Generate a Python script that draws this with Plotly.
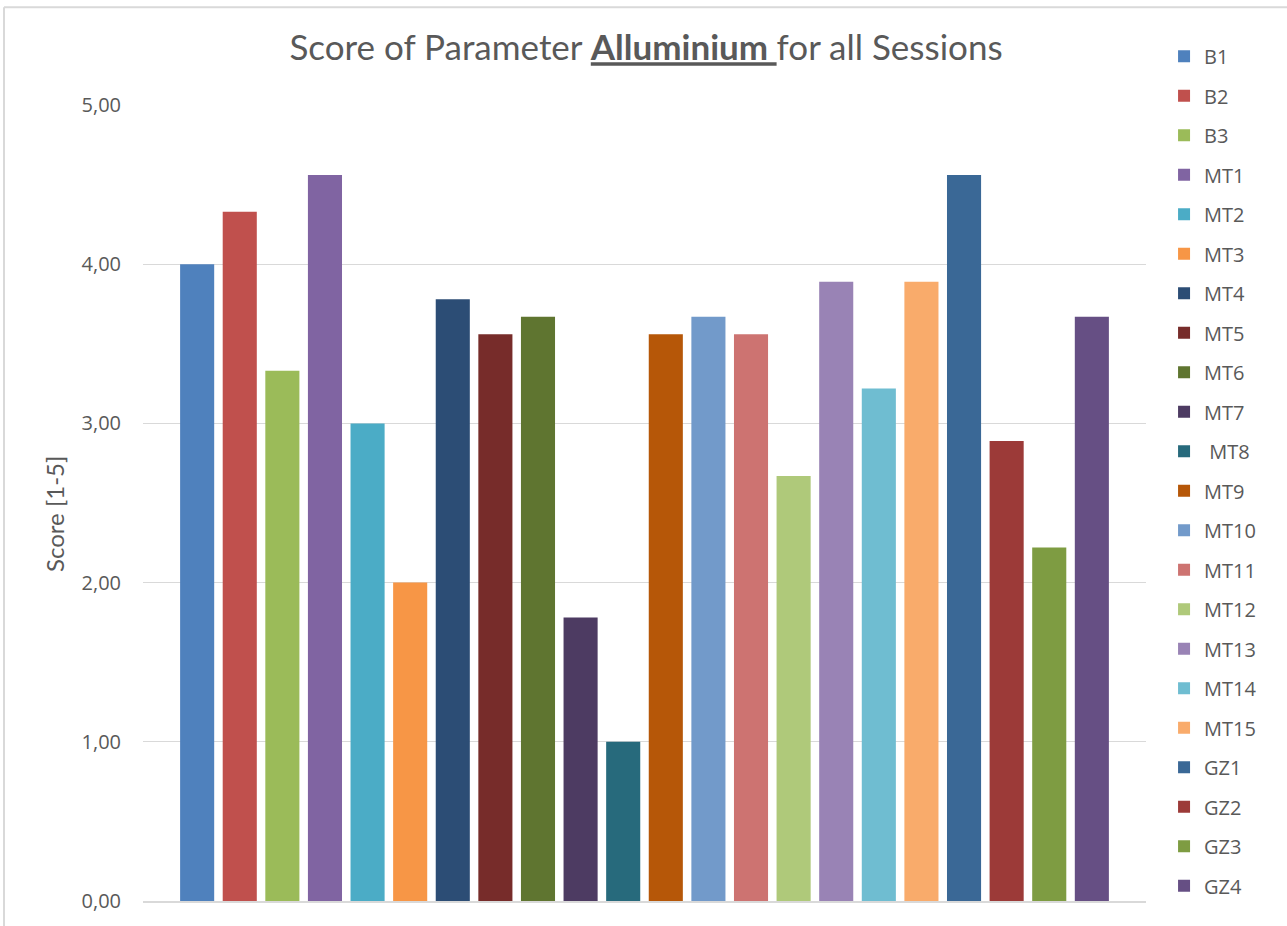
import plotly.graph_objects as go

sessions = ["B1", "B2", "B3", "MT1", "MT2", "MT3", "MT4", "MT5", "MT6", "MT7", " MT8",
            "MT9", "MT10", "MT11", "MT12", "MT13", "MT14", "MT15", "GZ1", "GZ2", "GZ3", "GZ4"]
scores = [4.00, 4.33, 3.33, 4.56, 3.00, 2.00, 3.78, 3.56, 3.67, 1.78, 1.00,
          3.56, 3.67, 3.56, 2.67, 3.89, 3.22, 3.89, 4.56, 2.89, 2.22, 3.67]
colors = ["#4F81BD", "#C0504D", "#9BBB59", "#8064A2", "#4BACC6", "#F79646", "#2C4D75",
          "#772C2A", "#5F7530", "#4D3B62", "#276A7C", "#B65708", "#729ACA", "#CD7371",
          "#AFC97A", "#9983B5", "#6FBDD1", "#F9AB6B", "#3A6896", "#9C3A38", "#7E9C42",
          "#664F84"]
category = ["Alluminium"]

fig = go.Figure()
for i, (name, val, col) in enumerate(zip(sessions, scores, colors)):
    fig.add_trace(go.Bar(x=category, y=[val], name=name, marker_color=col,
                         marker_line_width=0, legendgroup=f"g{i}"))

grey = "#595959"
W, H = 1287, 926
L, T, PW, PH = 143, 105, 1003, 798
fig.update_layout(
    width=W, height=H,
    barmode="group", bargap=0.0655, bargroupgap=0.2,
    plot_bgcolor="white", paper_bgcolor="white",
    margin=dict(l=L, r=W - L - PW, t=T, b=H - T - PH),
    separators=",.",
    title=dict(text="Score of Parameter <b><u>Alluminium </u></b>for all Sessions",
               x=646 / W, xref="container", xanchor="center",
               y=1 - 48 / H, yref="container", yanchor="middle",
               font=dict(family="Lato", size=35, color=grey)),
    legend=dict(x=1.018, xanchor="left", y=1.0858, yanchor="top",
                font=dict(family="Open Sans", size=20, color=grey),
                traceorder="grouped", tracegroupgap=10.5, itemwidth=30,
                maxheight=920, bgcolor="rgba(0,0,0,0)"),
    showlegend=True,
)
fig.update_xaxes(showticklabels=False, showgrid=False, showline=True,
                 linecolor="#d9d9d9", linewidth=1.5, zeroline=False)
fig.update_yaxes(range=[0, 5], dtick=1, tickformat=".2f", showgrid=True,
                 gridcolor="#d9d9d9", gridwidth=1.3, zeroline=False, showline=False,
                 ticks="outside", ticklen=17, tickcolor="rgba(0,0,0,0)",
                 tickfont=dict(family="Open Sans", size=20, color=grey))
# y-axis title placed where the reference shows it
fig.add_annotation(text="Score [1-5]", textangle=-90, showarrow=False,
                   xref="paper", yref="paper",
                   x=(55 - L) / PW, y=(T + PH - 515) / PH,
                   xanchor="center", yanchor="middle",
                   font=dict(family="Lato", size=24, color=grey))
# chart frame (partially visible at left and top)
fx = (4 - L) / PW
fy = (T + PH - 7) / PH
fig.add_shape(type="line", xref="paper", yref="paper", x0=fx, x1=fx, y0=fy, y1=-0.1,
              line=dict(color="#d9d9d9", width=2))
fig.add_shape(type="line", xref="paper", yref="paper", x0=fx, x1=1.2, y0=fy, y1=fy,
              line=dict(color="#d9d9d9", width=2))

fig.write_html("out.html", config={"displayModeBar": False},
               post_script="document.body.style.margin='0';")
